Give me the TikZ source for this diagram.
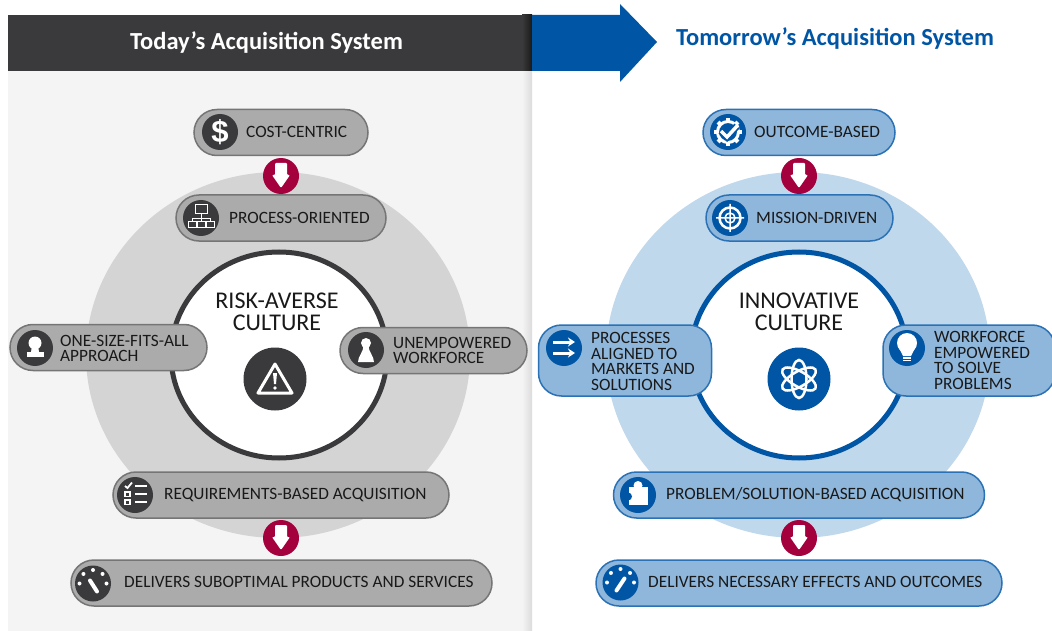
\documentclass[tikz,border=0pt]{standalone}
\usepackage{fontspec}
\setmainfont{Carlito}
\newfontfamily\iconfont{Liberation Sans}
\usetikzlibrary{arrows.meta}
\definecolor{darkgrey}{HTML}{3A3A3C}
\definecolor{panelgrey}{HTML}{F4F4F4}
\definecolor{discgrey}{HTML}{D4D4D4}
\definecolor{pillgrey}{HTML}{ABABAB}
\definecolor{edgegrey}{HTML}{757575}
\definecolor{navyblue}{HTML}{0056A4}
\definecolor{discblue}{HTML}{C0D8EC}
\definecolor{pillblue}{HTML}{8FB6DB}
\definecolor{edgeblue}{HTML}{2A72B5}
\definecolor{maroon}{HTML}{A4003D}
\tikzset{
	greypill/.style={rectangle, rounded corners=23pt, draw=edgegrey, fill=pillgrey, line width=1.5pt, inner sep=0pt},
	bluepill/.style={rectangle, rounded corners=23pt, draw=edgeblue, fill=pillblue, line width=1.5pt, inner sep=0pt},
	greyicon/.style={circle, fill=darkgrey, minimum size=36pt, inner sep=0pt},
	blueicon/.style={circle, fill=navyblue, minimum size=36pt, inner sep=0pt},
	pilltext/.style={anchor=west, inner sep=0pt, align=left, text=black!90, font=\fontsize{17.3}{15.6}\selectfont},
	culture/.style={inner sep=0pt, align=center, text=black!90, font=\fontsize{24}{22}\selectfont},
	title/.style={inner sep=0pt, font=\fontsize{24.5}{24.5}\selectfont\bfseries},
	downdot/.style={circle, fill=maroon, minimum size=36pt, inner sep=0pt},
	downarrow/.pic={\fill[white, rounded corners=1pt] (-6,-13) -- (6,-13) -- (6,-1) -- (9,-1) -- (0,12) -- (-9,-1) -- (-6,-1) -- cycle;},
	orgchart/.pic={\draw[white, line width=1pt] (-6,-13) rectangle (6,-4) (0,-4) -- (0,4) (-9,4) -- (-9,1) -- (9,1) -- (9,4) (-13,4) rectangle (-5,10) (-4,4) rectangle (4,10) (5,4) rectangle (13,10);},
	stamper/.pic={\fill[white] (0,-5) circle (6.5pt); \fill[white] (-3,-2) -- (3,-2) -- (4,4) -- (-4,4) -- cycle; \fill[white] (-8.5,4) rectangle (8.5,9);},
	pawn/.pic={\fill[white] (0,-7) circle (5pt); \fill[white] (-2.5,-4) -- (2.5,-4) .. controls (2.5,2) and (8,6) .. (8,12) -- (-8,12) .. controls (-8,6) and (-2.5,2) .. (-2.5,-4) -- cycle;},
	warning/.pic={\draw[white, line width=3pt, line join=round] (0,-15) -- (17,14) -- (-17,14) -- cycle; \fill[white] (-2,-6) -- (2,-6) -- (1,5) -- (-1,5) -- cycle; \fill[white] (0,9) circle (1.8pt);},
	checklist/.pic={\draw[white, line width=1.2pt] (-10,-3) rectangle (-5,1.5) (-10,5) rectangle (-5,9.5) (0,-9) -- (12,-9) (0,-1) -- (12,-1) (0,7) -- (12,7); \draw[white, line width=1.8pt] (-10,-9) -- (-7.5,-7) -- (-3,-12.5);},
	gaugeleft/.pic={\foreach \a in {0,45,90,135,180} \fill[white] (\a:13.5pt) circle (2pt); \draw[white, line width=4pt, line cap=round] (-3,-3) -- (4,8);},
	gaugeright/.pic={\foreach \a in {0,45,90,135,180} \fill[white] (\a:13.5pt) circle (2pt); \draw[white, line width=4pt, line cap=round] (4,-4) -- (-4,8);},
	gearcheck/.pic={\draw[white, line width=3pt] (0,0) circle (10.5pt); \foreach \a in {0,45,...,315} \draw[white, line width=4pt] (\a:10.5pt) -- (\a:14pt); \draw[navyblue, line width=7pt] (-7,-1) -- (-1,5) -- (9,-6); \draw[white, line width=3.5pt] (-7,-1) -- (-1,5) -- (10,-7);},
	target/.pic={\draw[white, line width=2.5pt] (0,0) circle (10.5pt); \draw[white, line width=1.5pt] (0,0) circle (5pt) (-14,0) -- (14,0) (0,-14) -- (0,14);},
	aligned/.pic={\draw[white, line width=3pt, -{Stealth[length=7pt, width=9pt]}] (-11,-6) -- (11,-6); \draw[white, line width=3pt, -{Stealth[length=7pt, width=9pt]}] (-11,5) -- (11,5);},
	bulb/.pic={\fill[white] (0,-5) circle (10pt); \fill[white] (-8,0) -- (8,0) -- (4,8) -- (-4,8) -- cycle; \draw[white, line width=1.2pt] (-4,10) -- (4,10) (-4,12.5) -- (4,12.5);},
	puzzle/.pic={\fill[white] (-9.5,-8) rectangle (9.5,10); \fill[white] (0,-9.5) circle (4.5pt); \fill[navyblue] (-10,1.5) circle (4pt);},
	atom/.pic={\foreach \a in {90,30,-30} \draw[white, line width=2.5pt, rotate=\a] (0,0) ellipse [x radius=19pt, y radius=7.5pt];}
}
\begin{document}
\begin{tikzpicture}[x=1pt,y=-1pt]
	\useasboundingbox (0,0) rectangle (1052,631);
	\fill[panelgrey] (8,71) rectangle (532,631);
	\shade[left color=panelgrey, right color=black!14] (522,71) rectangle (532,631);
	\fill[darkgrey] (8,15) rectangle (532,71);
	\shade[left color=darkgrey, right color=black!90] (522,15) rectangle (532,71);
	\fill[navyblue] (532,15) -- (620,15) -- (620,4) -- (657,42) -- (620,82) -- (620,71) -- (532,71) -- cycle;
	\node (today) at (266.5,43)	[title, text=white]	{Today’s Acquisition System};
	\node (tomorrow) at (835,38.5)	[title, text=navyblue]	{Tomorrow’s Acquisition System};

	\fill[discgrey] (278,355) ellipse [x radius=192pt, y radius=183pt];
	\fill[discblue] (798,355) ellipse [x radius=192pt, y radius=183pt];
	\draw[darkgrey, fill=white, line width=5pt] (279,355) ellipse [x radius=108pt, y radius=103pt];
	\draw[navyblue, fill=white, line width=5pt] (799,355) ellipse [x radius=108pt, y radius=103pt];

	\node (riskaverse) at (277,312)	[culture]	{RISK-AVERSE\\CULTURE};
	\node (warnicon) at (275,379)	[greyicon, minimum size=63pt]	{};
	\pic at (warnicon) {warning};
	\node (innovative) at (799,312)	[culture]	{INNOVATIVE\\CULTURE};
	\node (atomicon) at (799,379)	[blueicon, minimum size=63pt]	{};
	\pic at (atomicon) {atom};

	\node (cost) at (281,132.5)	[greypill, minimum width=174pt, minimum height=46pt]	{};
	\node (costicon) at (220,132)	[greyicon, text=white, font=\iconfont\bfseries\fontsize{31}{31}\selectfont]	{\$};
	\node (costtext) at (246,132)	[pilltext]	{COST-CENTRIC};
	\node (process) at (281,218)	[greypill, minimum width=210pt, minimum height=46pt]	{};
	\node (processicon) at (201,218)	[greyicon]	{};
	\pic at (processicon) {orgchart};
	\node (processtext) at (229,218)	[pilltext]	{PROCESS-ORIENTED};
	\node (onesize) at (108.5,347.5)	[greypill, minimum width=197pt, minimum height=46pt]	{};
	\node (onesizeicon) at (35,348)	[greyicon]	{};
	\pic at (onesizeicon) {stamper};
	\node (onesizetext) at (60,348.5)	[pilltext]	{ONE-SIZE-FITS-ALL\\APPROACH};
	\node (unemp) at (433.5,350.5)	[greypill, minimum width=187pt, minimum height=46pt]	{};
	\node (unempicon) at (366,350)	[greyicon]	{};
	\pic at (unempicon) {pawn};
	\node (unemptext) at (393,350.5)	[pilltext]	{UNEMPOWERED\\WORKFORCE};
	\node (require) at (281,495)	[greypill, minimum width=336pt, minimum height=46pt]	{};
	\node (requireicon) at (135,495)	[greyicon]	{};
	\pic at (requireicon) {checklist};
	\node (requiretext) at (164,495)	[pilltext]	{REQUIREMENTS-BASED ACQUISITION};
	\node (subopt) at (281.5,583)	[greypill, minimum width=421pt, minimum height=46pt]	{};
	\node (suopticon) at (93,583.5)	[greyicon]	{};
	\pic at (suopticon) {gaugeleft};
	\node (subopttext) at (124,582)	[pilltext]	{DELIVERS SUBOPTIMAL PRODUCTS AND SERVICES};

	\node (topleft) at (281,176)	[downdot]	{};
	\pic at (topleft) {downarrow};
	\node (botleft) at (281,538)	[downdot]	{};
	\pic at (botleft) {downarrow};

	\node (outcome) at (799,132.5)	[bluepill, minimum width=192pt, minimum height=46pt]	{};
	\node (outcomeicon) at (728,132)	[blueicon]	{};
	\pic at (outcomeicon) {gearcheck};
	\node (outcometext) at (754,132)	[pilltext]	{OUTCOME-BASED};
	\node (mission) at (799.5,218)	[bluepill, minimum width=187pt, minimum height=46pt]	{};
	\node (missionicon) at (730,218)	[blueicon]	{};
	\pic at (missionicon) {target};
	\node (missiontext) at (756,218)	[pilltext]	{MISSION-DRIVEN};
	\node (aligned) at (625,360.5)	[bluepill, minimum width=173pt, minimum height=71pt]	{};
	\node (alignedicon) at (564,348)	[blueicon]	{};
	\pic at (alignedicon) {aligned};
	\node (alignedtext) at (591,361.5)	[pilltext]	{PROCESSES\\ALIGNED TO\\MARKETS AND\\SOLUTIONS};
	\node (empower) at (969,360.5)	[bluepill, minimum width=172pt, minimum height=71pt]	{};
	\node (empowericon) at (907,348)	[blueicon]	{};
	\pic at (empowericon) {bulb};
	\node (empowertext) at (934,360.5)	[pilltext]	{WORKFORCE\\EMPOWERED\\TO SOLVE\\PROBLEMS};
	\node (solution) at (799,495)	[bluepill, minimum width=371pt, minimum height=46pt]	{};
	\node (solutionicon) at (638,495)	[blueicon]	{};
	\pic at (solutionicon) {puzzle};
	\node (solutiontext) at (666,495)	[pilltext]	{PROBLEM/SOLUTION-BASED ACQUISITION};
	\node (effects) at (799,583)	[bluepill, minimum width=406pt, minimum height=46pt]	{};
	\node (effectsicon) at (620.5,582.5)	[blueicon]	{};
	\pic at (effectsicon) {gaugeright};
	\node (effectstext) at (648,582)	[pilltext]	{DELIVERS NECESSARY EFFECTS AND OUTCOMES};

	\node (topright) at (799,176)	[downdot]	{};
	\pic at (topright) {downarrow};
	\node (botright) at (799,538)	[downdot]	{};
	\pic at (botright) {downarrow};
\end{tikzpicture}
\end{document}
